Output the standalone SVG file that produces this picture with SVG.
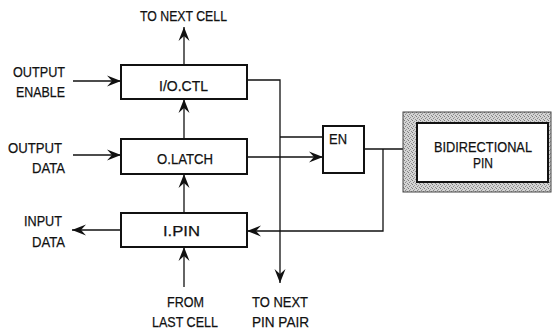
<svg xmlns="http://www.w3.org/2000/svg" width="552" height="329" viewBox="0 0 552 329">
<style>
.box{fill:#fff;stroke:#111;stroke-width:2}
.ln{fill:none;stroke:#111;stroke-width:1.3}
.arr{marker-end:url(#ah)}
text{font-family:"Liberation Sans",Arial,sans-serif;font-size:15.5px;fill:#111;stroke:#111;stroke-width:0.25}
</style>
<defs>
<marker id="ah" viewBox="-14 -6 15 12" refX="0" refY="0" markerWidth="15" markerHeight="12" markerUnits="userSpaceOnUse" orient="auto">
<path d="M0,0 L-14,-5.5 L-9,0 L-14,5.5 Z" fill="#111"/>
</marker>
<pattern id="stip" width="4" height="4" patternUnits="userSpaceOnUse">
<rect width="4" height="4" fill="#d4d4d4"/>
<rect x="0" y="0" width="1" height="1" fill="#7a7a7a"/>
<rect x="2" y="1" width="1" height="1" fill="#999"/>
<rect x="1" y="2" width="1" height="1" fill="#888"/>
<rect x="3" y="3" width="1" height="1" fill="#8a8a8a"/>
</pattern>
</defs>
<g id="connectors">
<path class="ln arr" d="M184,65 L184,27"/>
<path class="ln arr" d="M73,81 L121,81"/>
<path class="ln arr" d="M73,155 L121,155"/>
<path class="ln arr" d="M184,139 L184,99"/>
<path class="ln arr" d="M184,213 L184,174"/>
<path class="ln arr" d="M184,287 L184,247"/>
<path class="ln arr" d="M121,230 L72,230"/>
<path class="ln arr" d="M247,80 L280,80 L280,283"/>
<path class="ln" d="M280,137 L323,137"/>
<path class="ln arr" d="M247,157 L323,157"/>
<path class="ln" d="M364,149 L403,149"/>
<path class="ln arr" d="M383,149 L383,231 L247,231"/>
</g>
<g id="labels">
<text x="140" y="21" textLength="87" lengthAdjust="spacingAndGlyphs">TO NEXT CELL</text>
<text x="13" y="77" textLength="52" lengthAdjust="spacingAndGlyphs">OUTPUT</text>
<text x="16" y="97" textLength="49" lengthAdjust="spacingAndGlyphs">ENABLE</text>
<text x="8" y="153" textLength="54" lengthAdjust="spacingAndGlyphs">OUTPUT</text>
<text x="32" y="173" textLength="33" lengthAdjust="spacingAndGlyphs">DATA</text>
<text x="24" y="226" textLength="38" lengthAdjust="spacingAndGlyphs">INPUT</text>
<text x="32" y="247" textLength="33" lengthAdjust="spacingAndGlyphs">DATA</text>
<text x="167" y="307" textLength="37" lengthAdjust="spacingAndGlyphs">FROM</text>
<text x="152" y="327" textLength="66" lengthAdjust="spacingAndGlyphs">LAST CELL</text>
<text x="252" y="307" textLength="56" lengthAdjust="spacingAndGlyphs">TO NEXT</text>
<text x="252" y="327" textLength="57" lengthAdjust="spacingAndGlyphs">PIN PAIR</text>
</g>
<g id="ioctl">
<rect class="box" x="121" y="65" width="126" height="34"/>
<text x="159" y="91" textLength="49" lengthAdjust="spacingAndGlyphs">I/O.CTL</text>
</g>
<g id="olatch">
<rect class="box" x="121" y="139" width="126" height="35"/>
<text x="157" y="164" textLength="56" lengthAdjust="spacingAndGlyphs">O.LATCH</text>
</g>
<g id="ipin">
<rect class="box" x="121" y="213" width="126" height="34"/>
<text x="163" y="236" textLength="37" lengthAdjust="spacingAndGlyphs">I.PIN</text>
</g>
<g id="en">
<rect class="box" x="323" y="126" width="41" height="47"/>
<text x="329" y="144" textLength="18" lengthAdjust="spacingAndGlyphs">EN</text>
</g>
<g id="bidir">
<rect x="403" y="112" width="148" height="80" fill="url(#stip)" stroke="#444" stroke-width="1"/>
<rect class="box" x="417" y="123" width="131" height="59"/>
<text x="434" y="152" textLength="98" lengthAdjust="spacingAndGlyphs">BIDIRECTIONAL</text>
<text x="473" y="168" textLength="20" lengthAdjust="spacingAndGlyphs">PIN</text>
</g>
</svg>
